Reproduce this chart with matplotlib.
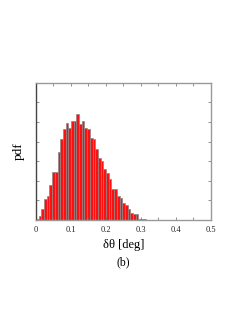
import numpy as np
import matplotlib
matplotlib.use("Agg")
import matplotlib.pyplot as plt

# histogram of angular error
bin_width = 0.0077
pdf_values = [0.05, 0.20, 0.59, 1.07, 1.24, 1.78, 2.46, 2.46, 3.46, 4.13,
              4.62, 4.96, 4.67, 5.04, 5.04, 5.43, 4.89, 5.03, 4.72, 4.65,
              4.19, 4.11, 3.62, 3.19, 3.02, 2.63, 2.38, 2.11, 1.61, 1.61,
              1.22, 1.15, 0.88, 0.76, 0.59, 0.37, 0.31, 0.31, 0.08, 0.08,
              0.05, 0.03, 0.03, 0.02, 0.02, 0.01, 0.01, 0.01, 0.01, 0.01,
              0.01, 0.01, 0.01, 0.01, 0.01]
xtick_labels = ["0", "0.1", "0.2", "0.3", "0.4", "0.5"]

plt.rcParams["font.family"] = ["Liberation Serif", "DejaVu Serif"]

fig = plt.figure(figsize=(2.4, 3.1), dpi=100)
ax = fig.add_axes([0.15, 0.29, 0.729, 0.443])

left_edges = np.arange(len(pdf_values)) * bin_width
ax.bar(left_edges, pdf_values, width=bin_width, align="edge",
       color="#ff1010", edgecolor="#888888", linewidth=0.5)

ax.set_xlim(0, 0.5)
ax.set_ylim(0, 7)
ax.set_xticks(np.arange(0, 0.51, 0.1))
ax.set_xticklabels(xtick_labels, fontsize=6)
ax.set_xticks(np.arange(0.05, 0.5, 0.1), minor=True)
ax.set_yticks(np.arange(0, 7.1, 1))
ax.set_yticklabels([])
ax.tick_params(which="both", direction="in", length=2, width=0.5,
               top=True, right=True, colors="#666666", pad=4)
ax.tick_params(axis="x", labelcolor="#222222")
for s in ax.spines.values():
    s.set_color("#999999")
    s.set_linewidth(1.0)
ax.spines["left"].set_color("#444444")

ax.set_ylabel("pdf", fontsize=9.5, labelpad=4)
ax.set_xlabel("δθ [deg]", fontsize=9, labelpad=3.5)
fig.text(0.515, 0.155, "(b)", fontsize=8.5, ha="center", va="center")

fig.savefig("out.png", dpi=100)
